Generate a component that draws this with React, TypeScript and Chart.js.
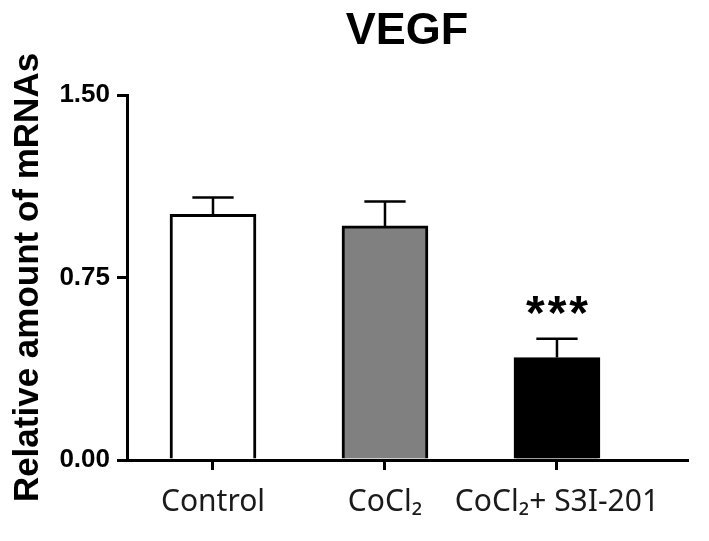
import React, { useEffect, useRef } from 'react';
import { Chart, registerables } from 'chart.js';

Chart.register(...registerables);

const chartTitle = 'VEGF';
const yAxisTitle = 'Relative amount of mRNAs';
const categories = ['Control', 'CoCl₂', 'CoCl₂+ S3I-201'];
const means = [1.01, 0.962, 0.421];
const sems = [0.069, 0.1, 0.077];
const significance = ['', '', '***'];
const yTickValues = [0, 0.75, 1.5];
const yTickLabels = ['0.00', '0.75', '1.50'];

const fills = ['#ffffff', '#808080', '#000000'];
const ARIAL = '"Liberation Sans", Arial, sans-serif';

const errorBarPlugin = {
  id: 'errorBars',
  afterDatasetsDraw(chart: any) {
    const ctx = chart.ctx;
    const meta = chart.getDatasetMeta(0);
    const yScale = chart.scales.y;
    ctx.save();
    ctx.strokeStyle = '#000';
    ctx.lineWidth = 2.5;
    meta.data.forEach((bar: any, i: number) => {
      const x = bar.x;
      const yTop = yScale.getPixelForValue(means[i] + sems[i]);
      const half = bar.width * 0.24;
      ctx.beginPath();
      ctx.moveTo(x, bar.y);
      ctx.lineTo(x, yTop);
      ctx.moveTo(x - half, yTop);
      ctx.lineTo(x + half, yTop);
      ctx.stroke();
      if (significance[i]) {
        ctx.font = `bold 48px ${ARIAL}`;
        ctx.textAlign = 'center';
        ctx.textBaseline = 'alphabetic';
        ctx.fillStyle = '#000';
        try { (ctx as any).letterSpacing = '3px'; } catch (e) {}
        ctx.fillText(significance[i], x + 1.5, yTop - 10);
      }
    });
    ctx.restore();
  },
};

export default function App() {
  const ref = useRef<HTMLCanvasElement | null>(null);

  useEffect(() => {
    if (!ref.current) return;
    const chart = new Chart(ref.current, {
      type: 'bar',
      data: {
        datasets: [
          {
            data: means.map((v, i) => ({ x: i, y: v })),
            backgroundColor: fills,
            borderColor: '#000',
            borderWidth: 3,
            barThickness: 86,
          } as any,
        ],
      },
      options: {
        animation: false,
        responsive: true,
        maintainAspectRatio: false,
        layout: { padding: { left: 0, right: 22, top: 0, bottom: 0 } },
        plugins: {
          legend: { display: false },
          tooltip: { enabled: false },
          title: {
            display: true,
            text: chartTitle,
            fullSize: false,
            color: '#000',
            font: { family: ARIAL, size: 45, weight: 'bold' },
            padding: { top: 5, bottom: 36 },
          },
        },
        scales: {
          x: {
            type: 'linear',
            min: -0.5,
            max: 2.756,
            offset: false,
            afterBuildTicks: (s: any) => {
              s.ticks = categories.map((_, i) => ({ value: i }));
            },
            afterFit: (s: any) => {
              s.height = 81;
            },
            grid: {
              display: true,
              offset: false,
              drawOnChartArea: false,
              drawTicks: true,
              tickLength: 10,
              color: '#000',
              lineWidth: 3,
            },
            border: { display: true, color: '#000', width: 3 },
            ticks: {
              autoSkip: false,
              maxRotation: 0,
              padding: 14,
              color: '#1a1a1a',
              font: { family: '"Noto Sans", "Open Sans", sans-serif', size: 30 },
              callback: (v: any) => categories[Number(v)] ?? '',
            },
          },
          y: {
            min: 0,
            max: 1.5,
            afterBuildTicks: (s: any) => {
              s.ticks = yTickValues.map((v) => ({ value: v }));
            },
            afterFit: (s: any) => {
              s.width = 127;
            },
            grid: {
              display: true,
              offset: false,
              drawOnChartArea: false,
              drawTicks: true,
              tickLength: 10,
              color: '#000',
              lineWidth: 3,
            },
            border: { display: true, color: '#000', width: 3 },
            ticks: {
              padding: 7,
              color: '#000',
              font: { family: ARIAL, size: 26, weight: 'bold' },
              callback: (_v: any, i: number) => yTickLabels[i],
            },
            title: {
              display: true,
              text: yAxisTitle,
              color: '#000',
              font: { family: ARIAL, size: 35, weight: 'bold' },
              padding: { top: 7, bottom: 0 },
            },
          },
        },
      } as any,
      plugins: [errorBarPlugin],
    });
    return () => chart.destroy();
  }, []);

  return (
    <div style={{ position: 'fixed', left: 0, top: 0, width: 709, height: 541, background: '#fff' }}>
      <canvas ref={ref} />
    </div>
  );
}
